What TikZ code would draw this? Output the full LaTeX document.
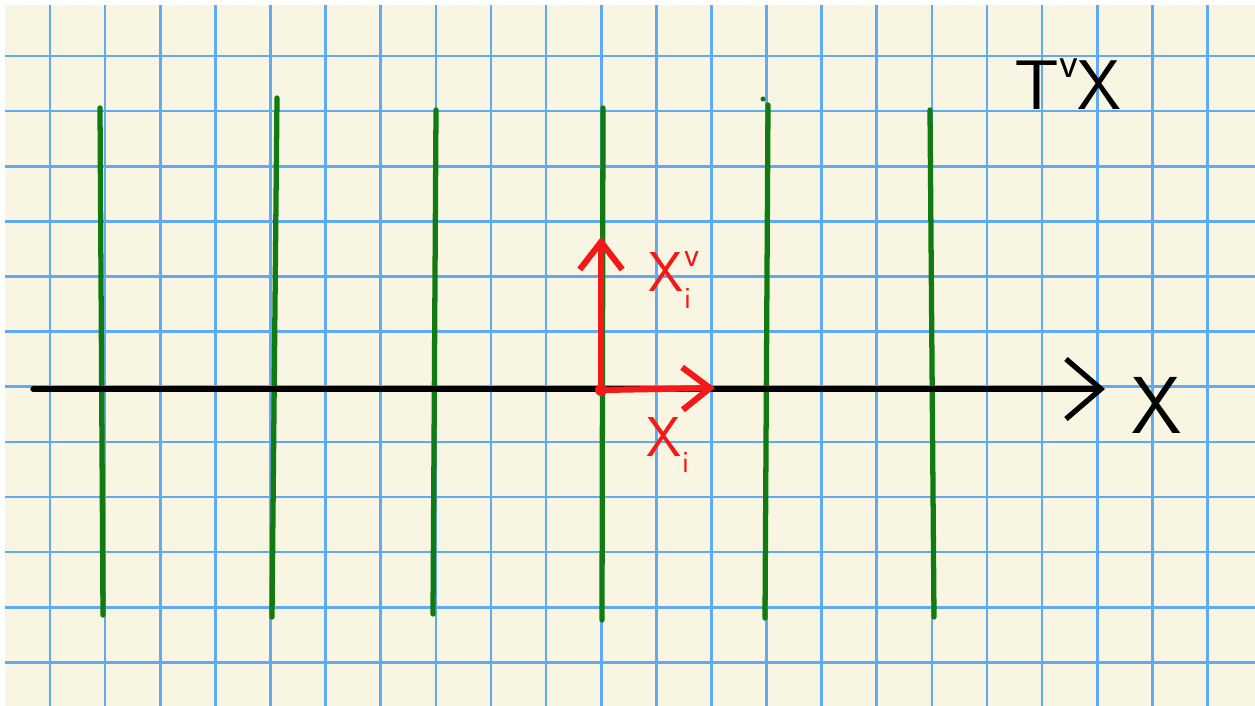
\documentclass[tikz,border=0pt]{standalone}
\usepackage{fontspec}
\usetikzlibrary{arrows.meta}
\definecolor{PaperCream}{HTML}{F8F6E2}
\definecolor{GridBlue}{HTML}{5EABF5}
\definecolor{FiberGreen}{HTML}{117A11}
\definecolor{VecRed}{HTML}{F41818}
\newcommand{\upv}[1]{\raisebox{0.45em}{\fontsize{0.62em}{0.62em}\selectfont #1}}
\newcommand{\dni}[1]{\raisebox{-0.3em}{\fontsize{0.55em}{0.55em}\selectfont #1}}

\begin{document}
\begin{tikzpicture}[x=0.02cm,y=-0.02cm,line cap=round,line join=round,
  fiber/.style={FiberGreen,line width=3pt},
  vec/.style={VecRed,line width=3.5pt,-{Straight Barb[length=5.5mm,width=8.5mm,line width=3.5pt]}},
  lab/.style={inner sep=0pt,font=\sffamily\fontsize{40}{40}\selectfont}]
  \useasboundingbox (0,0) rectangle (1255,706);
  \fill[white] (0,0) rectangle (1255,706);
  \fill[PaperCream] (5,5) rectangle (1255,706);
  \foreach \k in {0,...,21}{\draw[GridBlue,line width=1.5pt,line cap=butt] ({50+55.12*\k},5) -- ({50+55.12*\k},706);}
  \foreach \k in {0,...,11}{\draw[GridBlue,line width=1.5pt,line cap=butt] (5,{56+55.12*\k}) -- (1255,{56+55.12*\k});}
  % green fibers
  \foreach \n/\xt/\yt/\xb/\yb in {1/100/108/103/615,2/277/98/272/617,3/436/110/433/614,4/603/108/602/620,5/768/105/765/618,6/930/110/934/617}{
    \coordinate (g\n t) at (\xt,\yt);\coordinate (g\n b) at (\xb,\yb);
    \draw[fiber] (g\n t) -- (g\n b);}
  \fill[FiberGreen] (763,99) circle (2.5);
  % base
  \coordinate (xs) at (33,389);\coordinate (xe) at (1105,389);
  \draw[line width=3pt,-{Straight Barb[length=7mm,width=12mm,line width=3pt]}] (xs) -- (xe);
  \node[lab,font=\sffamily\fontsize{46}{46}\selectfont] (xlab) at (1157,405) {X};
  \node[lab] (tvx) at (1068,84) {T\upv{v}X};
  % vectors
  \coordinate (O) at (601,390);\coordinate (V) at (601,237);\coordinate (H) at (715,388);
  \draw[vec] (O) -- (V);
  \draw[vec] (O) -- (H);
  \fill[VecRed] (O) circle (6);
  \node[lab,VecRed,font=\sffamily\fontsize{32}{32}\selectfont] (xiv) at (670,280) {X\rlap{\upv{v}}\dni{i}};
  \node[lab,VecRed,font=\sffamily\fontsize{32}{32}\selectfont] (xi) at (668,445) {X\dni{i}};
\end{tikzpicture}
\end{document}
